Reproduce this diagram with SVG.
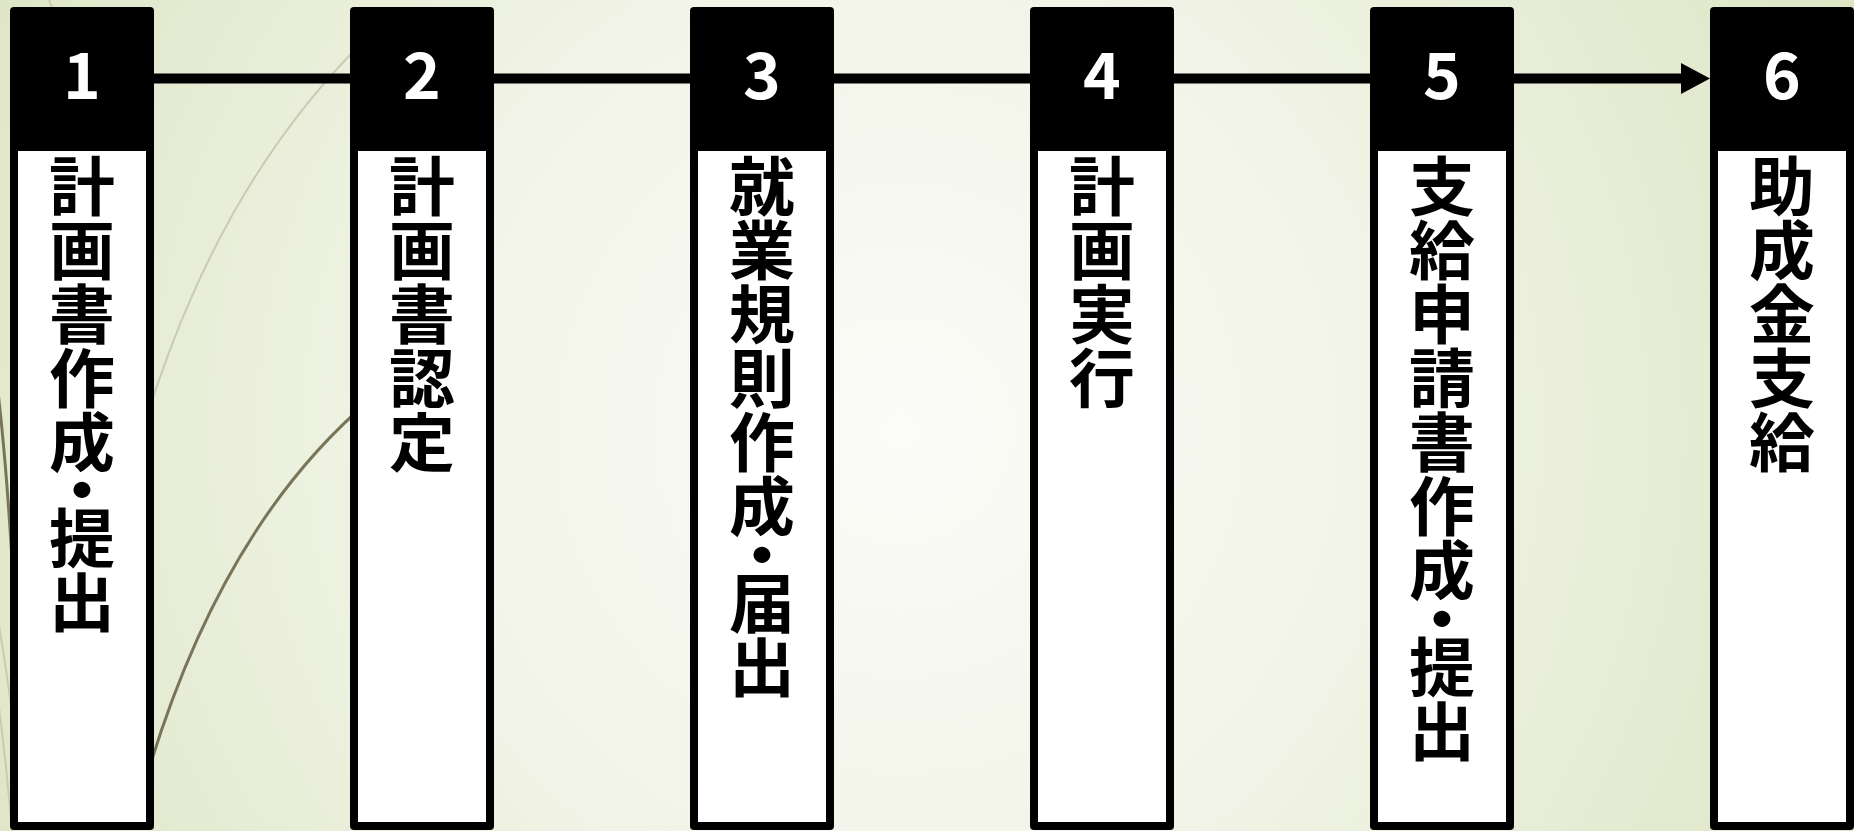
<svg xmlns="http://www.w3.org/2000/svg" width="1854" height="831" viewBox="0 0 1854 831">
<defs>
  <radialGradient id="bg" gradientUnits="userSpaceOnUse" cx="900" cy="430" r="1050">
    <stop offset="0" stop-color="#fbfcf8"/>
    <stop offset="0.45" stop-color="#f1f4e7"/>
    <stop offset="1" stop-color="#dde5c4"/>
  </radialGradient>
  <marker id="arrow" markerUnits="userSpaceOnUse" markerWidth="30" markerHeight="32" refX="2" refY="15.5" orient="auto">
    <path d="M0,0 L29,15.5 L0,31 Z" fill="#000"/>
  </marker>
  <style>
    .outer{fill:#000}
    .inner{fill:#fff}
    .num{font-family:"Noto Sans CJK JP","Liberation Sans",sans-serif;font-weight:bold;font-size:64px;fill:#fff;text-anchor:middle}
    .label{font-family:"Noto Sans CJK JP",sans-serif;font-weight:bold;font-size:64px;fill:#000;writing-mode:vertical-rl}
    .wisp-light{fill:none;stroke:#c8ccb2;stroke-width:2}
    .wisp-dark{fill:none;stroke:#7a7559;stroke-width:3}
    .link{stroke:#000;stroke-width:10;fill:none}
  </style>
</defs>
<rect x="0" y="0" width="1854" height="831" fill="url(#bg)"/>
<g id="decor">
  <path class="wisp-light" d="M370,35 Q214,185 140,440"/>
  <path class="wisp-dark" d="M370,400 Q214,532 140,800"/>
  <path class="wisp-light" d="M49,0 Q51,6 55,14"/>
  <path class="wisp-dark" d="M-2,392 Q6,460 12,560" stroke-width="4"/>
  <path class="wisp-light" d="M-2,620 Q5,660 12,712" stroke-width="3"/>
  <path class="wisp-light" d="M-2,700 Q6,760 12,831" stroke-width="3"/>
</g>
<g id="connectors">
  <line class="link" x1="154" y1="78.5" x2="1683" y2="78.5" marker-end="url(#arrow)"/>
</g>
<g id="node1">
  <rect class="outer" x="10" y="7" width="144" height="823" rx="4"/>
  <rect class="inner" x="18" y="151" width="128" height="671"/>
  <text class="num" x="82" y="99">1</text>
  <text class="label" transform="translate(82,0) scale(1.03,1)" x="0" y="154" writing-mode="vertical-rl">計画書作成<tspan dy="-16">・</tspan><tspan dy="-16">提出</tspan></text>
</g>
<g id="node2">
  <rect class="outer" x="350" y="7" width="144" height="823" rx="4"/>
  <rect class="inner" x="358" y="151" width="128" height="671"/>
  <text class="num" x="422" y="99">2</text>
  <text class="label" transform="translate(422,0) scale(1.03,1)" x="0" y="154" writing-mode="vertical-rl">計画書認定</text>
</g>
<g id="node3">
  <rect class="outer" x="690" y="7" width="144" height="823" rx="4"/>
  <rect class="inner" x="698" y="151" width="128" height="671"/>
  <text class="num" x="762" y="99">3</text>
  <text class="label" transform="translate(762,0) scale(1.03,1)" x="0" y="154" writing-mode="vertical-rl">就業規則作成<tspan dy="-16">・</tspan><tspan dy="-16">届出</tspan></text>
</g>
<g id="node4">
  <rect class="outer" x="1030" y="7" width="144" height="823" rx="4"/>
  <rect class="inner" x="1038" y="151" width="128" height="671"/>
  <text class="num" x="1102" y="99">4</text>
  <text class="label" transform="translate(1102,0) scale(1.03,1)" x="0" y="154" writing-mode="vertical-rl">計画実行</text>
</g>
<g id="node5">
  <rect class="outer" x="1370" y="7" width="144" height="823" rx="4"/>
  <rect class="inner" x="1378" y="151" width="128" height="671"/>
  <text class="num" x="1442" y="99">5</text>
  <text class="label" transform="translate(1442,0) scale(1.03,1)" x="0" y="154" writing-mode="vertical-rl">支給申請書作成<tspan dy="-16">・</tspan><tspan dy="-16">提出</tspan></text>
</g>
<g id="node6">
  <rect class="outer" x="1710" y="7" width="144" height="823" rx="4"/>
  <rect class="inner" x="1718" y="151" width="128" height="671"/>
  <text class="num" x="1782" y="99">6</text>
  <text class="label" transform="translate(1782,0) scale(1.03,1)" x="0" y="154" writing-mode="vertical-rl">助成金支給</text>
</g>
</svg>
